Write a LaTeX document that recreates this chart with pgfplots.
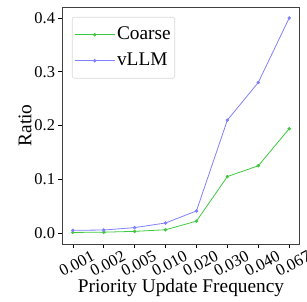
\documentclass[border=0pt]{standalone}
\usepackage{pgfplots}
\pgfplotsset{compat=1.18}
\usepackage{fontspec}
\setmainfont{Liberation Serif}
\definecolor{cgreen}{RGB}{64,200,64}
\definecolor{cblue}{RGB}{128,128,255}
\begin{document}
\begin{tikzpicture}
\begin{axis}[
  scale only axis,
  width=238bp, height=237bp,
  xmin=-0.35, xmax=7.35,
  ymin=-0.0205, ymax=0.4205,
  xtick={0,1,2,3,4,5,6,7},
  xticklabels={0.001,0.002,0.005,0.010,0.020,0.030,0.040,0.067},
  ytick={0,0.1,0.2,0.3,0.4},
  yticklabel style={/pgf/number format/fixed,/pgf/number format/fixed zerofill,/pgf/number format/precision=1},
  /pgf/number format/assume math mode=true,
  tick align=outside,
  tick pos=left,
  major tick length=3.5bp,
  tick style={black, line width=0.6pt},
  axis line style={black!75, line width=1pt},
  ticklabel style={font=\fontsize{16.5}{16.5}\selectfont},
  label style={font=\fontsize{19.4}{19.4}\selectfont},
  xticklabel style={rotate=28, anchor=center, yshift=-16bp, xshift=-4bp},
  xlabel={Priority Update Frequency},
  ylabel={Ratio},
  xlabel style={at={(axis description cs:0.5,-0.186)}, anchor=center},
  ylabel style={at={(axis description cs:-0.155,0.5)}, anchor=center},
  legend style={at={(axis description cs:0.042,0.958)}, anchor=north west, draw=black!15, line width=0.6pt, rounded corners=2pt, font=\fontsize{19.4}{19.4}\selectfont, row sep=4bp, inner xsep=2bp, inner ysep=6.5bp, nodes={inner ysep=2bp, text height=14bp, text depth=4bp}},
  legend cell align=left,
  legend image code/.code={\draw[mark repeat=2,mark phase=2,#1] plot coordinates {(0bp,0bp) (20bp,0bp) (40bp,0bp)};},
]
\coordinate (bl) at (rel axis cs:0,0);
\addplot[color=cgreen, line width=0.8pt, mark=*, mark size=1.3pt] coordinates {
(0,0.001) (1,0.0015) (2,0.003) (3,0.006) (4,0.022) (5,0.105) (6,0.125) (7,0.194)};
\addlegendentry{Coarse}
\addplot[color=cblue, line width=0.8pt, mark=*, mark size=1.3pt] coordinates {
(0,0.005) (1,0.0055) (2,0.01) (3,0.0186) (4,0.041) (5,0.21) (6,0.28) (7,0.4)};
\addlegendentry{vLLM}
\end{axis}
\pgfresetboundingbox
\path (bl) ++(-62bp,-58bp) rectangle ++(307bp,302bp);
\end{tikzpicture}
\end{document}
